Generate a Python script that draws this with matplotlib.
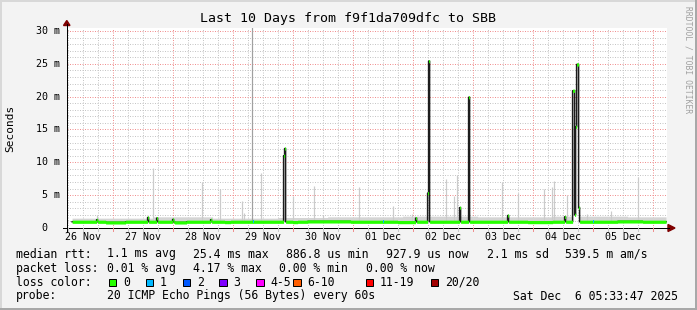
import numpy as np
import matplotlib
matplotlib.use("Agg")
import matplotlib.pyplot as plt
from matplotlib.patches import Polygon, Rectangle
from matplotlib.lines import Line2D

# ---------------- data (hours since 26 Nov 00:00, values in ms) ----------------
t_start = 5.563          # 26 Nov 05:33:47
t_end = 245.563          # 06 Dec 05:33:47
sample_step = 0.4        # 24 min per sample

# baseline median level segments (start hour, ms)
base_seg_t = [7.6, 21.2, 29.0, 48.8, 53.6, 68.8, 71.0, 96.0, 98.0, 102.0, 119.0, 138.0, 145.0, 190.0, 200.0, 226.0, 236.0]
base_seg_v = [0.95, 0.85, 0.95, 0.85, 0.95, 0.9, 0.95, 0.9, 0.95, 1.0, 0.95, 0.9, 0.95, 0.9, 0.95, 1.0, 0.95]

# median spikes
spike_t = [17.8, 38.0, 41.8, 48.0, 63.4, 92.5, 92.9, 145.4, 150.1, 150.5, 163.0, 166.4, 182.2,
           204.8, 208.2, 208.6, 209.0, 209.4, 209.8, 210.2, 210.6]
spike_v = [1.25, 1.6, 1.5, 1.3, 1.25, 11.0, 12.1, 1.5, 5.3, 25.4, 3.1, 19.9, 1.9,
           1.7, 20.9, 20.9, 2.0, 15.4, 24.9, 24.9, 3.1]

# samples with 1/20 loss
loss1_t = [80.0, 132.1, 216.1]

# smoke band top segments (start hour, ms)
smoke_seg_t = [7.6, 40.0, 64.0, 90.0, 110.0, 140.0, 170.0, 200.0, 230.0]
smoke_seg_v = [1.5, 1.7, 1.5, 1.6, 1.7, 1.8, 1.7, 1.8, 1.7]

# tall smoke spikes
smoke_t = [17.68, 40.08, 59.44, 66.76, 75.44, 76.48, 83.36, 96.08, 104.48, 108.08, 122.48, 136.08,
           143.44, 157.28, 160.44, 161.68, 179.68, 185.96, 196.28, 199.56, 200.36, 205.68, 213.44,
           223.16, 233.88]
smoke_v = [2.0, 9.1, 7.0, 5.9, 4.1, 2.3, 8.3, 4.8, 6.4, 2.0, 6.3, 3.3,
           2.1, 7.5, 4.8, 8.1, 7.0, 5.4, 5.9, 6.3, 7.2, 5.0, 2.1,
           2.6, 7.8]
smoke_full_t = [79.68]

day_labels = ['26 Nov', '27 Nov', '28 Nov', '29 Nov', '30 Nov', '01 Dec', '02 Dec', '03 Dec', '04 Dec', '05 Dec']
y_ticks = [0, 5, 10, 15, 20, 25, 30]
y_labels = ['0', '5 m', '10 m', '15 m', '20 m', '25 m', '30 m']

title = 'Last 10 Days from f9f1da709dfc to SBB'
loss_colors = ['#26ff00', '#00b8ff', '#0059ff', '#7e00ff', '#ff00ff', '#ff5e00', '#ff0000', '#a10000']
loss_labels = ['0', '1', '2', '3', '4-5', '6-10', '11-19', '20/20']

# ---------------- figure ----------------
W, H = 697, 310
fig = plt.figure(figsize=(W / 100, H / 100), dpi=100)
fig.patch.set_facecolor('#f3f3f3')

def fx(px):
    return px / W

def fy(py):
    return 1 - py / H

ax_l, ax_r, ax_b, ax_t = 67, 667, 228, 28
y_max = 30.45
ax = fig.add_axes([fx(ax_l), fy(ax_b), (ax_r - ax_l) / W, (ax_b - ax_t) / H])
ax.set_facecolor('white')
ax.set_xlim(t_start, t_end)
ax.set_ylim(0, y_max)
for s in ax.spines.values():
    s.set_visible(False)
ax.set_xticks([])
ax.set_yticks([])

PX = 0.72  # one pixel in points
ms_per_px = y_max / (ax_b - ax_t)
RED = '#f09090'
GRY = '#c6c6c6'
DOT = (0, (1, 1.5))

# grid
for h in range(6, 246, 6):
    if h % 24 == 0:
        ax.axvline(h, color=RED, lw=PX, ls=DOT, zorder=1)
    else:
        ax.axvline(h, color=GRY, lw=PX, ls=DOT, zorder=0.5)
for v in range(1, 31):
    if v % 5 == 0:
        ax.axhline(v, color=RED, lw=PX, ls=DOT, zorder=1)
    else:
        ax.axhline(v, color=GRY, lw=PX, ls=DOT, zorder=0.5)

# build sample series
times = np.arange(7.6, 245.3, sample_step)
base = np.zeros_like(times)
for st, lv in zip(base_seg_t, base_seg_v):
    base[times >= st - 1e-6] = lv
smoke_top = np.zeros_like(times)
for st, lv in zip(smoke_seg_t, smoke_seg_v):
    smoke_top[times >= st - 1e-6] = lv
med = base.copy()
for st, sv in zip(spike_t, spike_v):
    i = int(np.argmin(np.abs(times - st)))
    med[i] = sv

# smoke (grey spread of the pings, above the median)
ax.fill_between(times, med, np.maximum(smoke_top, med), step='mid', color='#d4d4d4', lw=0, zorder=2)
ax.vlines(smoke_t, [base[int(np.argmin(np.abs(times - s)))] for s in smoke_t], smoke_v,
          color='#cbcbcb', lw=PX * 1.2, zorder=2.1)
ax.vlines(smoke_full_t, 0.9, 40, color='#a0a0a0', lw=PX * 1.2, zorder=2.1)

# median line (black step) with loss-coloured band on each sample
ax.step(times, med, where='mid', color='#1c1c1c', lw=PX * 1.5, zorder=3)
band = 3.2 * ms_per_px
ax.fill_between(times, med - band / 2, med + band / 2, step='mid', color=loss_colors[0],
                lw=0, zorder=4)
for st in loss1_t:
    i = int(np.argmin(np.abs(times - st)))
    ax.fill_between([times[i] - sample_step / 2, times[i] + sample_step / 2],
                    med[i] - band / 2, med[i] + band / 2, color=loss_colors[1], lw=0, zorder=4.5)

# axes lines and arrows
fig.add_artist(Line2D([fx(67), fx(67)], [fy(232), fy(24)], color='black', lw=PX, transform=fig.transFigure))
fig.add_artist(Line2D([fx(63), fx(669)], [fy(228), fy(228)], color='black', lw=PX, transform=fig.transFigure))
fig.add_artist(Polygon([[fx(63.5), fy(25.5)], [fx(70), fy(25.5)], [fx(66.8), fy(20.5)]],
                       closed=True, color='#7f0000', transform=fig.transFigure))
fig.add_artist(Polygon([[fx(668), fy(224.5)], [fx(668), fy(231.5)], [fx(675), fy(228)]],
                       closed=True, color='#7f0000', transform=fig.transFigure))

# ticks below axis
for h in range(6, 246, 6):
    xp = ax_l + (h - t_start) * 2.5
    c = RED if h % 24 == 0 else GRY
    fig.add_artist(Line2D([fx(xp), fx(xp)], [fy(228), fy(231)], color=c, lw=PX, transform=fig.transFigure))

mono = 'DejaVu Sans Mono'

# x tick labels
for k, lab in enumerate(day_labels):
    xp = ax_l + (12 + 24 * k - t_start) * 2.5
    fig.text(fx(xp), fy(237.5), lab, family=mono, fontsize=7.2, ha='center', va='center')

# y tick labels
for v, lab in zip(y_ticks, y_labels):
    yp = ax_b - v / ms_per_px
    xr = 59.5 if v != 0 else 59.5 - 2 * 6.02
    fig.text(fx(xr), fy(yp), lab, family=mono, fontsize=7.2, ha='right', va='center')

# title, axis label, watermark
fig.text(fx(348), fy(18.5), title, family=mono, fontsize=9.5, ha='center', va='center')
fig.text(fx(10.5), fy(128), 'Seconds', family=mono, fontsize=8, rotation=90, ha='center', va='center')
fig.text(fx(688), fy(60), 'RRDTOOL / TOBI OETIKER', family=mono, fontsize=5.8, rotation=270,
         ha='center', va='center', color='#a0a0a0')

# legend
fs = 8.3
def t(x, y, s):
    fig.text(fx(x), fy(y), s, family=mono, fontsize=fs, ha='left', va='center')

y1, y2, y3, y4 = 254, 268.3, 282.3, 296
t(16, y1, 'median rtt:')
t(107.3, y1, '1.1 ms avg')
t(193.3, y1, '25.4 ms max')
t(286, y1, '886.8 us min')
t(385.7, y1, '927.9 us now')
t(486.7, y1, '2.1 ms sd')
t(565, y1, '539.5 m am/s')

t(16, y2, 'packet loss:')
t(107.3, y2, '0.01 % avg')
t(193.3, y2, '4.17 % max')
t(279.3, y2, '0.00 % min')
t(365.7, y2, '0.00 % now')

t(16, y3, 'loss color:')
sq_x = [108.7, 145.7, 182.7, 219.3, 256.3, 293.3, 365.7, 430.7]
for xs, c, lab in zip(sq_x, loss_colors, loss_labels):
    fig.add_artist(Rectangle((fx(xs), fy(y3 + 3.8)), 7.5 / W, 7.5 / H, facecolor=c,
                             edgecolor='black', lw=PX, transform=fig.transFigure))
    t(xs + 14.3, y3, lab)

t(16, y4, 'probe:')
t(107.3, y4, '20 ICMP Echo Pings (56 Bytes) every 60s')
t(513.3, y4, 'Sat Dec  6 05:33:47 2025')

# frame
fig.add_artist(Rectangle((0, 0), 2 / W, 1, color='#d8d8d8', lw=0, transform=fig.transFigure))
fig.add_artist(Rectangle((0, fy(2)), 1, 2 / H, color='#d8d8d8', lw=0, transform=fig.transFigure))
fig.add_artist(Rectangle((fx(695), 0), 2 / W, 1, color='#a8a8a8', lw=0, transform=fig.transFigure))
fig.add_artist(Rectangle((0, 0), 1, 2 / H, color='#a8a8a8', lw=0, transform=fig.transFigure))

fig.savefig('out.png', dpi=100, facecolor=fig.get_facecolor())
